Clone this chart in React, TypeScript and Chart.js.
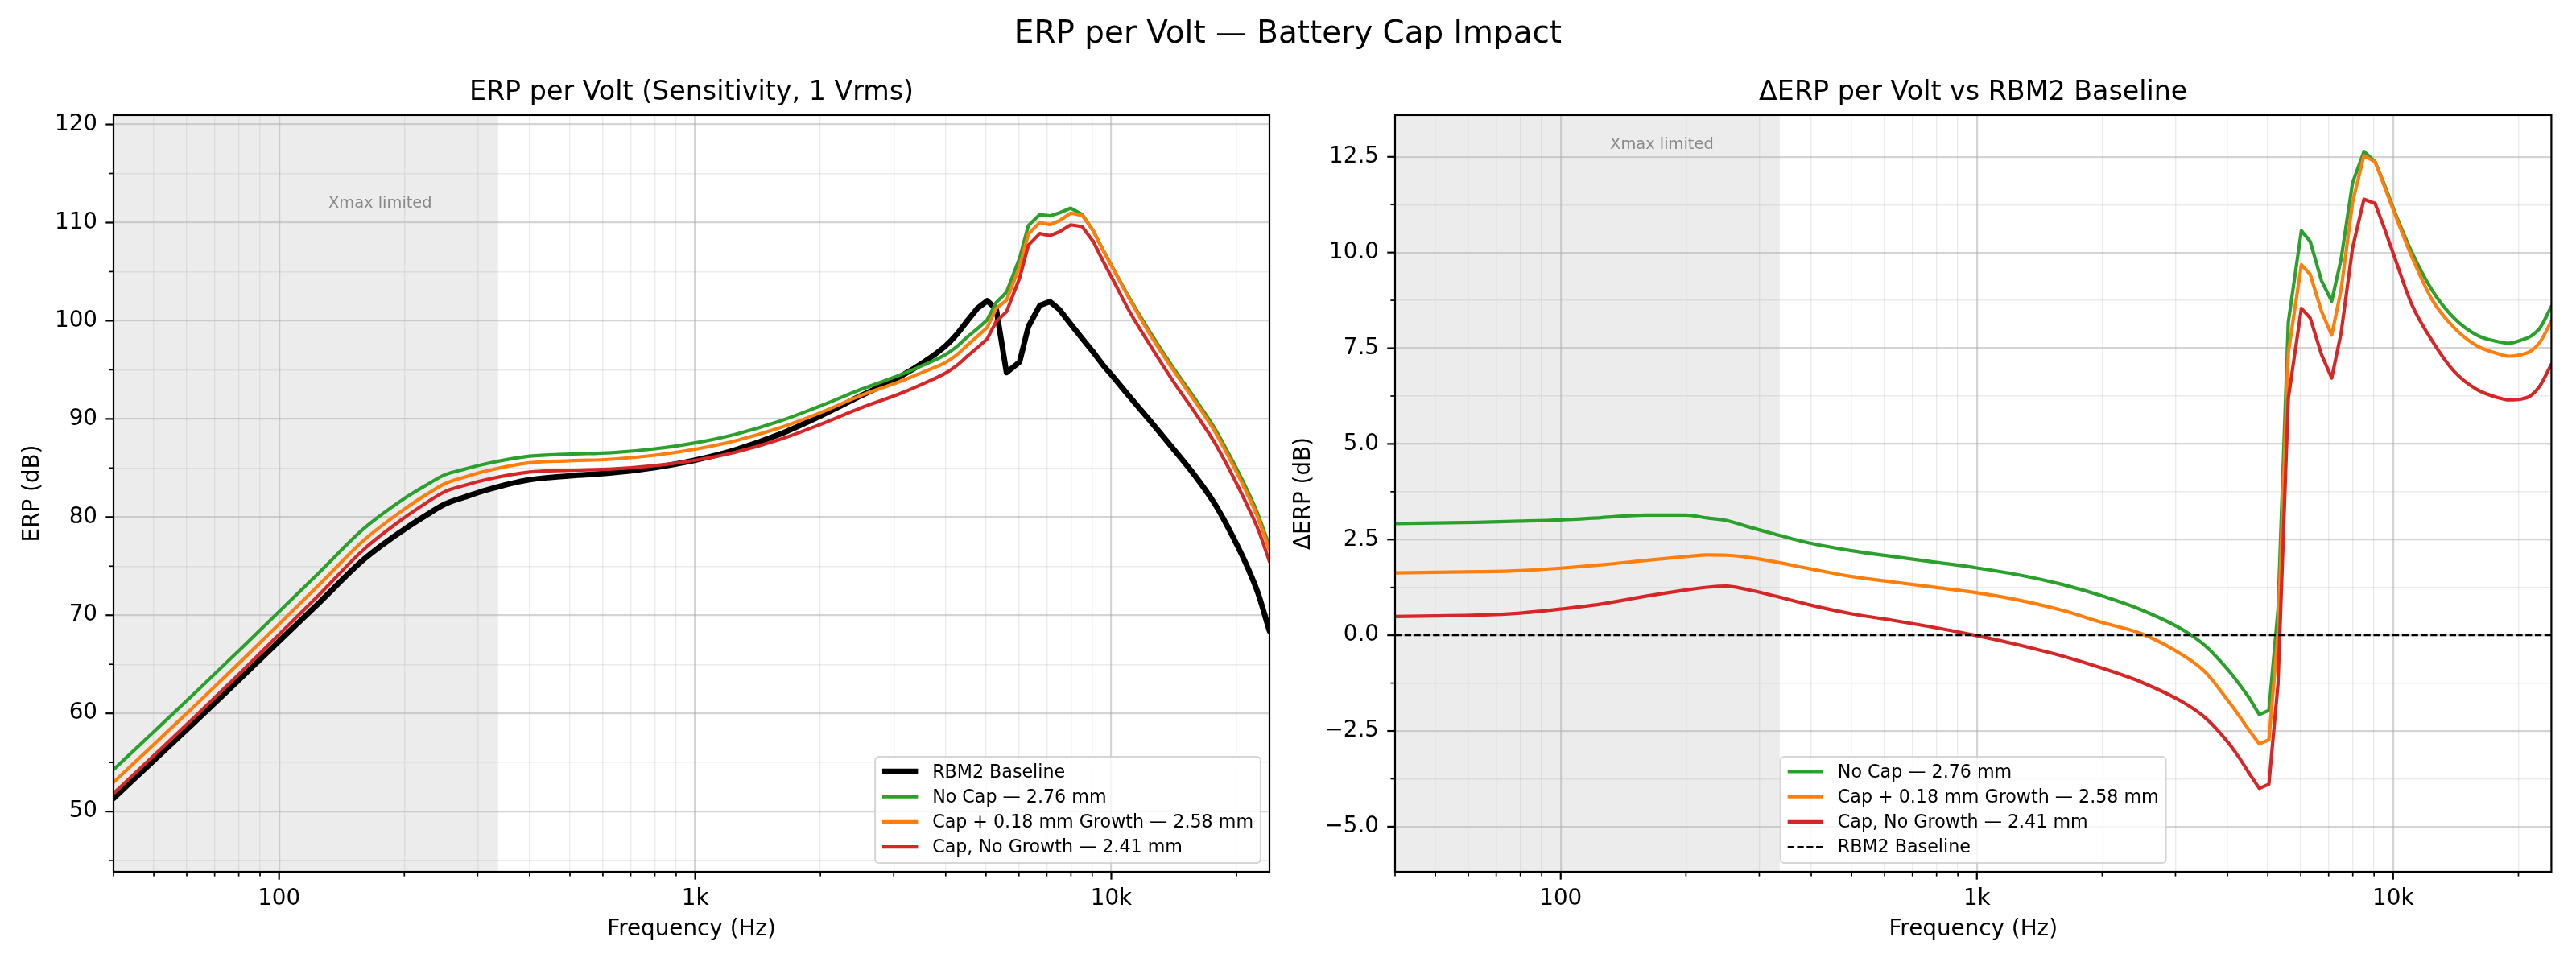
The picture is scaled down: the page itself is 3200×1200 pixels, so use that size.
import React, { useEffect, useRef } from 'react';
import { Chart, registerables } from 'chart.js';

Chart.register(...registerables);

const FONT = "'DejaVu Sans', 'Liberation Sans', sans-serif";

// ---------------- data ----------------
const FREQ_HZ = [40, 50, 63, 80, 100, 125, 160, 200, 225, 250, 280, 315, 400, 500, 630, 800, 1000, 1250, 1600, 2000, 2500, 3150, 3550, 4000, 4250, 4500, 4770, 5030, 5290, 5600, 6020, 6320, 6730, 7120, 7500, 7990, 8510, 9050, 9550, 10100, 11100, 12400, 14000, 15900, 17700, 19000, 20300, 21400, 22500, 24000];

const RBM2_ERP_DB = [51.35, 55.2, 59.2, 63.4, 67.35, 71.3, 75.7, 78.75, 80.15, 81.3, 82.05, 82.75, 83.8, 84.2, 84.5, 85.05, 85.8, 86.85, 88.45, 90.3, 92.35, 94.45, 95.8, 97.45, 98.6, 99.95, 101.27, 102.03, 101.2, 94.72, 95.8, 99.4, 101.55, 101.95, 101.15, 99.65, 98.2, 96.8, 95.5, 94.3, 92.2, 89.8, 87.1, 84.2, 81.4, 79.1, 76.7, 74.6, 72.3, 68.4];

const NO_CAP_DELTA_DB = [2.92, 2.935, 2.95, 2.98, 3.015, 3.073, 3.14, 3.14, 3.065, 3.0, 2.845, 2.69, 2.4, 2.21, 2.056, 1.905, 1.76, 1.587, 1.33, 1.026, 0.65, 0.12, -0.29, -0.89, -1.25, -1.62, -2.07, -1.96, 0.66, 8.18, 10.57, 10.29, 9.26, 8.73, 9.83, 11.82, 12.64, 12.37, 11.75, 11.05, 10.0, 9.02, 8.29, 7.84, 7.68, 7.63, 7.71, 7.81, 8.02, 8.59];

const CAP_GROWTH_DELTA_DB = [1.63, 1.645, 1.66, 1.69, 1.754, 1.839, 1.958, 2.056, 2.098, 2.09, 2.04, 1.95, 1.73, 1.536, 1.391, 1.247, 1.11, 0.927, 0.655, 0.334, 0.03, -0.545, -0.98, -1.69, -2.08, -2.47, -2.84, -2.73, 0.05, 7.38, 9.68, 9.43, 8.46, 7.84, 9.03, 11.31, 12.53, 12.37, 11.7, 11.0, 9.88, 8.77, 8.04, 7.56, 7.37, 7.29, 7.33, 7.42, 7.65, 8.21];

const CAP_NO_GROWTH_DELTA_DB = [0.49, 0.505, 0.525, 0.58, 0.685, 0.816, 1.02, 1.185, 1.254, 1.285, 1.197, 1.07, 0.784, 0.56, 0.387, 0.193, -0.01, -0.243, -0.537, -0.861, -1.238, -1.77, -2.17, -2.78, -3.17, -3.59, -4.0, -3.89, -1.27, 6.19, 8.54, 8.29, 7.33, 6.72, 7.9, 10.12, 11.39, 11.28, 10.6, 9.85, 8.63, 7.7, 6.9, 6.42, 6.22, 6.15, 6.17, 6.26, 6.51, 7.08];

const BASELINE_REF_FREQ_HZ = [40, 24000];
const BASELINE_REF_DELTA_DB = [0, 0];

const SERIES_LABELS = ['RBM2 Baseline', 'No Cap — 2.76 mm', 'Cap + 0.18 mm Growth — 2.58 mm', 'Cap, No Growth — 2.41 mm'];

const X_TICKS = [40, 50, 60, 70, 80, 90, 100, 200, 300, 400, 500, 600, 700, 800, 900, 1000, 2000, 3000, 4000, 5000, 6000, 7000, 8000, 9000, 10000, 20000];
const X_MAJOR = [100, 1000, 10000];
const X_MAJOR_LABELS = ['100', '1k', '10k'];
const ERP_TICKS = [45, 50, 55, 60, 65, 70, 75, 80, 85, 90, 95, 100, 105, 110, 115, 120];
const ERP_MAJOR = [50, 60, 70, 80, 90, 100, 110, 120];
const DELTA_TICKS = [-5, -3.75, -2.5, -1.25, 0, 1.25, 2.5, 3.75, 5, 6.25, 7.5, 8.75, 10, 11.25, 12.5];
const DELTA_MAJOR = [-5, -2.5, 0, 2.5, 5, 7.5, 10, 12.5];

const X_MIN = 40;
const X_MAX = 24000;
const XMAX_LIMIT_HZ = 336;
// the resonance region is drawn as a plain polyline, the rest with monotone smoothing
const SHARP_FROM_HZ = 4500;
const SHARP_UNTIL_HZ = 9050;

// ---------------- styles ----------------
const C_BLACK = '#000000';
const C_GREEN = '#2ca02c';
const C_ORANGE = '#ff7f0e';
const C_RED = '#d62728';
const SPAN_COLOR = 'rgba(128,128,128,0.15)';
const GRID_MAJOR = 'rgba(176,176,176,0.55)';
const GRID_MINOR = 'rgba(176,176,176,0.25)';

Chart.defaults.font.family = FONT;
Chart.defaults.color = '#000';

const has = (arr: number[], v: number) => arr.some((a) => Math.abs(a - v) < 1e-9);

type LegendItem = { label: string; color: string; width: number; dash?: number[] };

function roundRectPath(ctx: CanvasRenderingContext2D, x: number, y: number, w: number, h: number, r: number) {
  ctx.beginPath();
  ctx.moveTo(x + r, y);
  ctx.lineTo(x + w - r, y);
  ctx.arcTo(x + w, y, x + w, y + r, r);
  ctx.lineTo(x + w, y + h - r);
  ctx.arcTo(x + w, y + h, x + w - r, y + h, r);
  ctx.lineTo(x + r, y + h);
  ctx.arcTo(x, y + h, x, y + h - r, r);
  ctx.lineTo(x, y + r);
  ctx.arcTo(x, y, x + r, y, r);
  ctx.closePath();
}

function decorPlugin(opts: {
  legend: LegendItem[];
  legendMode: 'lowerRight' | 'lowerCenter';
  noteX: number;
  noteY: number;
  yTicksMajor: number[];
}) {
  return {
    id: 'mplDecor',
    beforeDraw(chart: any) {
      const { ctx, chartArea: a, scales } = chart;
      const x0 = scales.x.getPixelForValue(X_MIN);
      const x1 = scales.x.getPixelForValue(XMAX_LIMIT_HZ);
      ctx.save();
      ctx.fillStyle = SPAN_COLOR;
      ctx.fillRect(x0, a.top, x1 - x0, a.bottom - a.top);
      ctx.restore();
    },
    afterDatasetsDraw(chart: any) {
      const { ctx, chartArea: a, scales } = chart;
      ctx.save();
      ctx.font = `19.4px ${FONT}`;
      ctx.fillStyle = '#888888';
      ctx.textAlign = 'center';
      ctx.textBaseline = 'middle';
      ctx.fillText('Xmax limited', scales.x.getPixelForValue(opts.noteX), scales.y.getPixelForValue(opts.noteY));
      ctx.strokeStyle = '#000';
      for (const t of scales.x.ticks) {
        const px = scales.x.getPixelForValue(t.value);
        const major = has(X_MAJOR, t.value);
        ctx.lineWidth = major ? 2.2 : 1.7;
        ctx.beginPath();
        ctx.moveTo(px, a.bottom);
        ctx.lineTo(px, a.bottom + (major ? 9.7 : 5.6));
        ctx.stroke();
      }
      for (const t of scales.y.ticks) {
        const py = scales.y.getPixelForValue(t.value);
        const major = has(opts.yTicksMajor, t.value);
        ctx.lineWidth = major ? 2.2 : 1.7;
        ctx.beginPath();
        ctx.moveTo(a.left, py);
        ctx.lineTo(a.left - (major ? 9.7 : 5.6), py);
        ctx.stroke();
      }
      ctx.lineWidth = 2.2;
      ctx.strokeRect(a.left, a.top, a.right - a.left, a.bottom - a.top);
      ctx.restore();
    },
    afterDraw(chart: any) {
      const { ctx, chartArea: a } = chart;
      const items = opts.legend;
      const fs = 22.2;
      ctx.save();
      ctx.font = `${fs}px ${FONT}`;
      const textW = Math.max(...items.map((it) => ctx.measureText(it.label).width));
      const pad = 0.4 * fs;
      const hl = 2 * fs;
      const hp = 0.8 * fs;
      const rowH = 20.2;
      const gap = 0.5 * fs;
      const axPad = 0.5 * fs;
      const w = 2 * pad + hl + hp + textW;
      const h = 2 * pad + items.length * rowH + (items.length - 1) * gap;
      const x = opts.legendMode === 'lowerRight' ? a.right - axPad - w : (a.left + a.right) / 2 - w / 2;
      const y = a.bottom - axPad - h;
      roundRectPath(ctx, x, y, w, h, 0.2 * fs);
      ctx.fillStyle = 'rgba(255,255,255,0.8)';
      ctx.fill();
      ctx.strokeStyle = 'rgba(204,204,204,0.8)';
      ctx.lineWidth = 2;
      ctx.stroke();
      items.forEach((it, i) => {
        const cy = y + pad + rowH / 2 - 0.7 + i * (rowH + gap);
        ctx.beginPath();
        ctx.strokeStyle = it.color;
        ctx.lineWidth = it.width;
        ctx.setLineDash(it.dash || []);
        ctx.moveTo(x + pad, cy);
        ctx.lineTo(x + pad + hl, cy);
        ctx.stroke();
        ctx.setLineDash([]);
        ctx.fillStyle = '#000';
        ctx.textAlign = 'left';
        ctx.textBaseline = 'middle';
        ctx.fillText(it.label, x + pad + hl + hp, cy + 1.5);
      });
      ctx.restore();
    },
  };
}

const pts = (xs: number[], ys: number[]) => xs.map((x, i) => ({ x, y: ys[i] }));

function lineDs(label: string, data: any[], color: string, width: number, order: number, extra: any = {}) {
  return {
    label,
    data,
    borderColor: color,
    backgroundColor: color,
    borderWidth: width,
    pointRadius: 0,
    borderJoinStyle: 'round',
    borderCapStyle: 'round',
    tension: 0,
    fill: false,
    clip: 0,
    order,
    ...extra,
  };
}

// one series -> smooth low piece, straight resonance piece, smooth high piece (sharing end points)
function seriesDs(label: string, ys: number[], color: string, width: number, order: number) {
  const low: any[] = [];
  const mid: any[] = [];
  const high: any[] = [];
  FREQ_HZ.forEach((f, i) => {
    const p = { x: f, y: ys[i] };
    if (f <= SHARP_FROM_HZ) low.push(p);
    if (f >= SHARP_FROM_HZ && f <= SHARP_UNTIL_HZ) mid.push(p);
    if (f >= SHARP_UNTIL_HZ) high.push(p);
  });
  return [
    lineDs(label, low, color, width, order, { cubicInterpolationMode: 'monotone' }),
    lineDs(label, mid, color, width, order),
    lineDs(label, high, color, width, order, { cubicInterpolationMode: 'monotone' }),
  ];
}

function xScale() {
  return {
    type: 'logarithmic',
    min: X_MIN,
    max: X_MAX,
    afterBuildTicks: (s: any) => {
      s.ticks = X_TICKS.map((v) => ({ value: v, major: false }));
    },
    afterFit: (s: any) => {
      s.height = 117;
    },
    ticks: {
      autoSkip: false,
      maxRotation: 0,
      minRotation: 0,
      padding: 7,
      color: '#000',
      font: { size: 27.8, family: FONT },
      callback: (v: number) => {
        const i = X_MAJOR.findIndex((m) => Math.abs(m - v) < 1e-6);
        return i >= 0 ? X_MAJOR_LABELS[i] : '';
      },
    },
    grid: {
      color: (c: any) => (has(X_MAJOR, c.tick?.value) ? GRID_MAJOR : GRID_MINOR),
      lineWidth: (c: any) => (has(X_MAJOR, c.tick?.value) ? 2.2 : 1.4),
      drawTicks: true,
      tickLength: 10,
      tickColor: 'rgba(0,0,0,0)',
    },
    border: { display: false },
    title: {
      display: true,
      text: 'Frequency (Hz)',
      color: '#000',
      font: { size: 27.8, family: FONT },
      padding: { top: 0, bottom: 28.3 },
    },
  };
}

function yScale(o: { min: number; max: number; ticks: number[]; major: number[]; width: number; title: string; titlePad: number; fmt: (v: number) => string }) {
  return {
    type: 'linear',
    min: o.min,
    max: o.max,
    afterBuildTicks: (s: any) => {
      s.ticks = o.ticks.map((v) => ({ value: v }));
    },
    afterFit: (s: any) => {
      s.width = o.width;
    },
    ticks: {
      padding: 10,
      color: '#000',
      font: { size: 27.8, family: FONT },
      callback: (v: number) => (has(o.major, v) ? o.fmt(v) : ''),
    },
    grid: {
      color: (c: any) => (has(o.major, c.tick?.value) ? GRID_MAJOR : GRID_MINOR),
      lineWidth: (c: any) => (has(o.major, c.tick?.value) ? 2.2 : 1.4),
      drawTicks: true,
      tickLength: 10,
      tickColor: 'rgba(0,0,0,0)',
    },
    border: { display: false },
    title: {
      display: true,
      text: o.title,
      color: '#000',
      font: { size: 27.8, family: FONT },
      padding: { top: o.titlePad, bottom: 0 },
    },
  };
}

function titleOpts(text: string) {
  return {
    display: true,
    text,
    color: '#000',
    fullSize: false,
    font: { size: 33.3, weight: 'normal', family: FONT },
    padding: { top: 95.5, bottom: 7.5 },
  };
}

function buildErpConfig(): any {
  const noCap = RBM2_ERP_DB.map((b, i) => b + NO_CAP_DELTA_DB[i]);
  const capGrowth = RBM2_ERP_DB.map((b, i) => b + CAP_GROWTH_DELTA_DB[i]);
  const capNoGrowth = RBM2_ERP_DB.map((b, i) => b + CAP_NO_GROWTH_DELTA_DB[i]);
  return {
    type: 'line',
    data: {
      datasets: [
        ...seriesDs(SERIES_LABELS[0], RBM2_ERP_DB, C_BLACK, 6.9, 3),
        ...seriesDs(SERIES_LABELS[1], noCap, C_GREEN, 4.2, 2),
        ...seriesDs(SERIES_LABELS[2], capGrowth, C_ORANGE, 4.2, 1),
        ...seriesDs(SERIES_LABELS[3], capNoGrowth, C_RED, 4.2, 0),
      ],
    },
    options: {
      animation: false,
      responsive: false,
      events: [],
      layout: { padding: { left: 0, right: 23, top: 0, bottom: 0 } },
      plugins: {
        legend: { display: false },
        tooltip: { enabled: false },
        title: titleOpts('ERP per Volt (Sensitivity, 1 Vrms)'),
      },
      scales: {
        x: xScale(),
        y: yScale({
          min: 43.86,
          max: 120.95,
          ticks: ERP_TICKS,
          major: ERP_MAJOR,
          width: 141,
          title: 'ERP (dB)',
          titlePad: 24.3,
          fmt: (v) => String(v),
        }),
      },
    },
    plugins: [
      decorPlugin({
        legend: [
          { label: SERIES_LABELS[0], color: C_BLACK, width: 6.9 },
          { label: SERIES_LABELS[1], color: C_GREEN, width: 4.2 },
          { label: SERIES_LABELS[2], color: C_ORANGE, width: 4.2 },
          { label: SERIES_LABELS[3], color: C_RED, width: 4.2 },
        ],
        legendMode: 'lowerRight',
        noteX: 175,
        noteY: 111.9,
        yTicksMajor: ERP_MAJOR,
      }),
    ],
  };
}

function buildDeltaConfig(): any {
  return {
    type: 'line',
    data: {
      datasets: [
        ...seriesDs(SERIES_LABELS[1], NO_CAP_DELTA_DB, C_GREEN, 4.2, 3),
        ...seriesDs(SERIES_LABELS[2], CAP_GROWTH_DELTA_DB, C_ORANGE, 4.2, 2),
        ...seriesDs(SERIES_LABELS[3], CAP_NO_GROWTH_DELTA_DB, C_RED, 4.2, 1),
        lineDs(SERIES_LABELS[0], pts(BASELINE_REF_FREQ_HZ, BASELINE_REF_DELTA_DB), C_BLACK, 2.2, 0, {
          borderDash: [8.2, 3.6],
          borderCapStyle: 'butt',
        }),
      ],
    },
    options: {
      animation: false,
      responsive: false,
      events: [],
      layout: { padding: { left: 0, right: 30.6, top: 0, bottom: 0 } },
      plugins: {
        legend: { display: false },
        tooltip: { enabled: false },
        title: titleOpts('ΔERP per Volt vs RBM2 Baseline'),
      },
      scales: {
        x: xScale(),
        y: yScale({
          min: -6.18,
          max: 13.59,
          ticks: DELTA_TICKS,
          major: DELTA_MAJOR,
          width: 133,
          title: 'ΔERP (dB)',
          titlePad: 2.9,
          fmt: (v) => v.toFixed(1).replace('-', '\u2212'),
        }),
      },
    },
    plugins: [
      decorPlugin({
        legend: [
          { label: SERIES_LABELS[1], color: C_GREEN, width: 4.2 },
          { label: SERIES_LABELS[2], color: C_ORANGE, width: 4.2 },
          { label: SERIES_LABELS[3], color: C_RED, width: 4.2 },
          { label: SERIES_LABELS[0], color: C_BLACK, width: 2.2, dash: [8.2, 3.6] },
        ],
        legendMode: 'lowerCenter',
        noteX: 175,
        noteY: 12.81,
        yTicksMajor: DELTA_MAJOR,
      }),
    ],
  };
}

export default function App() {
  const leftRef = useRef<HTMLCanvasElement>(null);
  const rightRef = useRef<HTMLCanvasElement>(null);

  useEffect(() => {
    const c1 = new Chart(leftRef.current as HTMLCanvasElement, buildErpConfig());
    const c2 = new Chart(rightRef.current as HTMLCanvasElement, buildDeltaConfig());
    return () => {
      c1.destroy();
      c2.destroy();
    };
  }, []);

  return (
    <div style={{ position: 'fixed', left: 0, top: 0, width: 3200, height: 1200, overflow: 'hidden', background: '#ffffff' }}>
      <canvas ref={leftRef} width={1600} height={1200} style={{ position: 'absolute', left: 0, top: 0, width: 1600, height: 1200 }} />
      <canvas ref={rightRef} width={1600} height={1200} style={{ position: 'absolute', left: 1600, top: 0, width: 1600, height: 1200 }} />
      <div
        style={{
          position: 'absolute',
          left: 0,
          top: 20.7,
          width: 3200,
          textAlign: 'center',
          fontFamily: FONT,
          fontSize: '38.9px',
          lineHeight: '38.9px',
          color: '#000',
          whiteSpace: 'nowrap',
        }}
      >
        ERP per Volt — Battery Cap Impact
      </div>
    </div>
  );
}
